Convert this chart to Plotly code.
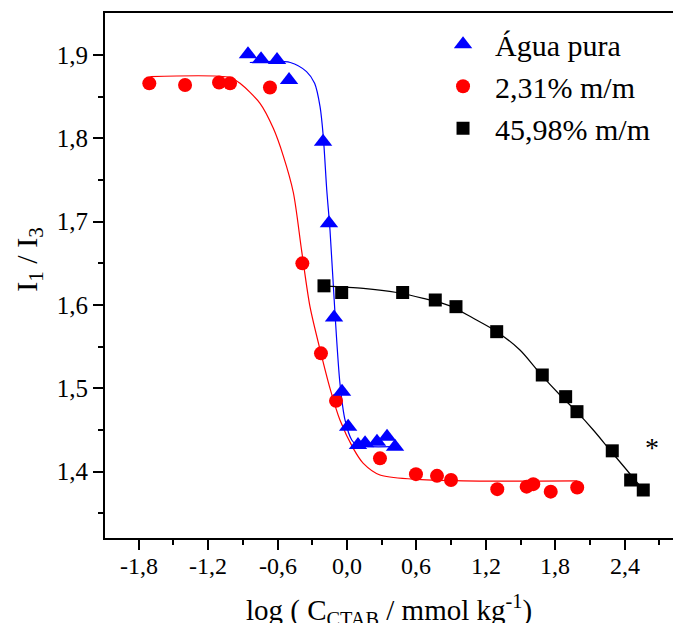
import plotly.graph_objects as go

# ---- data ----
agua_x = [-0.856, -0.743, -0.605, -0.501, -0.207, -0.156, -0.112, -0.043, 0.010, 0.095, 0.156, 0.259, 0.346, 0.415]
agua_y = [1.901, 1.895, 1.894, 1.870, 1.796, 1.698, 1.585, 1.496, 1.454, 1.432, 1.434, 1.436, 1.442, 1.430]

p231_x = [-1.709, -1.400, -1.106, -1.011, -0.666, -0.386, -0.225, -0.095, 0.285, 0.596, 0.778, 0.899, 1.299, 1.553, 1.610, 1.761, 1.990]
p231_y = [1.866, 1.864, 1.867, 1.866, 1.861, 1.650, 1.542, 1.485, 1.416, 1.397, 1.395, 1.390, 1.379, 1.382, 1.385, 1.376, 1.381]

p4598_x = [-0.199, -0.046, 0.481, 0.763, 0.942, 1.294, 1.688, 1.890, 1.988, 2.293, 2.452, 2.561]
p4598_y = [1.623, 1.615, 1.615, 1.606, 1.598, 1.568, 1.516, 1.490, 1.472, 1.425, 1.390, 1.378]

# fitted curves
fit_agua_x = [-0.84, -0.49, -0.35, -0.28, -0.233, -0.205, -0.175, -0.147, -0.104, -0.061, -0.017, 0.041, 0.084, 0.20, 0.39]
fit_agua_y = [1.891, 1.891, 1.880, 1.866, 1.838, 1.802, 1.738, 1.690, 1.590, 1.506, 1.462, 1.438, 1.432, 1.430, 1.430]

fit_231_x = [-1.70, -1.01, -0.925, -0.752, -0.637, -0.551, -0.464, -0.392, -0.320, -0.225, -0.147, -0.061, 0.054, 0.141, 0.285, 0.573, 1.005, 1.99]
fit_231_y = [1.874, 1.873, 1.866, 1.842, 1.812, 1.779, 1.735, 1.665, 1.598, 1.542, 1.500, 1.462, 1.428, 1.410, 1.396, 1.391, 1.389, 1.389]

fit_4598_x = [-0.199, 0.141, 0.430, 0.659, 0.890, 1.092, 1.294, 1.495, 1.668, 1.841, 1.985, 2.129, 2.273, 2.418, 2.561]
fit_4598_y = [1.623, 1.620, 1.615, 1.608, 1.599, 1.584, 1.568, 1.546, 1.518, 1.492, 1.472, 1.450, 1.426, 1.402, 1.378]

series_names = ["Água pura", "2,31% m/m", "45,98% m/m"]

x_tickvals = [-1.8, -1.2, -0.6, 0.0, 0.6, 1.2, 1.8, 2.4]
x_ticktext = ["-1,8", "-1,2", "-0,6", "0,0", "0,6", "1,2", "1,8", "2,4"]
x_minor = [-2.1, -1.5, -0.9, -0.3, 0.3, 0.9, 1.5, 2.1, 2.7]
y_tickvals = [1.4, 1.5, 1.6, 1.7, 1.8, 1.9]
y_ticktext = ["1,4", "1,5", "1,6", "1,7", "1,8", "1,9"]
y_minor = [1.35, 1.45, 1.55, 1.65, 1.75, 1.85]

FONT = "Liberation Serif, Times New Roman, serif"

fig = go.Figure()

# fitted lines
fig.add_trace(go.Scatter(x=fit_agua_x, y=fit_agua_y, mode="lines", showlegend=False,
                         line=dict(color="#0000FF", width=1.2, shape="spline", smoothing=0.8), hoverinfo="skip"))
fig.add_trace(go.Scatter(x=fit_231_x, y=fit_231_y, mode="lines", showlegend=False,
                         line=dict(color="#FF0000", width=1.2, shape="spline", smoothing=0.8), hoverinfo="skip"))
fig.add_trace(go.Scatter(x=fit_4598_x, y=fit_4598_y, mode="lines", showlegend=False,
                         line=dict(color="#000000", width=1.2, shape="spline", smoothing=0.8), hoverinfo="skip"))

# markers
fig.add_trace(go.Scatter(x=p4598_x, y=p4598_y, mode="markers", name=series_names[2],
                         marker=dict(symbol="square", size=13, color="#000000"), legendrank=3))
fig.add_trace(go.Scatter(x=p231_x, y=p231_y, mode="markers", name=series_names[1],
                         marker=dict(symbol="circle", size=14, color="#FF0000"), legendrank=2))
fig.add_trace(go.Scatter(x=agua_x, y=agua_y, mode="markers", name=series_names[0],
                         marker=dict(symbol="triangle-up", size=16, color="#0000FF"), legendrank=1))

# x tick labels placed through the x scale (closer to the axis than Plotly's default)
x_label_annotations = [
    dict(text=t, x=v, y=0, xref="x", yref="paper", xanchor="center", yanchor="middle",
         yshift=-28, showarrow=False, font=dict(family=FONT, size=24))
    for v, t in zip(x_tickvals, x_ticktext)
]

fig.update_layout(
    width=673, height=623,
    margin=dict(l=105, r=0, t=13, b=85),
    paper_bgcolor="white", plot_bgcolor="white",
    font=dict(family=FONT, color="black", size=24),
    showlegend=True,
    legend=dict(x=0.574, y=0.990, xanchor="left", yanchor="top",
                font=dict(family=FONT, size=30, color="black"),
                bgcolor="rgba(0,0,0,0)", itemwidth=54, tracegroupgap=0),
    xaxis=dict(range=[-2.092, 2.818], showgrid=False, zeroline=False,
               showline=True, linecolor="black", linewidth=2, mirror=True,
               ticks="outside", ticklen=10, tickwidth=2, tickcolor="black",
               tickmode="array", tickvals=x_tickvals, ticktext=x_ticktext,
               showticklabels=False,
               minor=dict(tickmode="array", tickvals=x_minor, ticks="outside",
                          ticklen=5, tickwidth=2, tickcolor="black", showgrid=False)),
    yaxis=dict(range=[1.3204, 1.9504], showgrid=False, zeroline=False,
               showline=True, linecolor="black", linewidth=2, mirror=False,
               ticks="outside", ticklen=10, tickwidth=2, tickcolor="black",
               tickmode="array", tickvals=y_tickvals, ticktext=y_ticktext,
               tickfont=dict(family=FONT, size=25),
               minor=dict(tickmode="array", tickvals=y_minor, ticks="outside",
                          ticklen=5, tickwidth=2, tickcolor="black", showgrid=False)),
    annotations=x_label_annotations + [
        dict(text="I<sub>1</sub> / I<sub>3</sub>", xref="paper", yref="paper",
             x=-0.134, y=0.53, xanchor="center", yanchor="middle", textangle=-90,
             showarrow=False, font=dict(family=FONT, size=30)),
        dict(text="log ( C<sub>CTAB</sub> / mmol kg<sup>-1</sup>)", xref="paper", yref="paper",
             x=0.5, y=-0.138, xanchor="center", yanchor="middle",
             showarrow=False, font=dict(family=FONT, size=29)),
        dict(text="*", xref="x", yref="y", x=2.633, y=1.432, xanchor="center", yanchor="middle",
             yshift=-2, showarrow=False, font=dict(family=FONT, size=28)),
    ],
)

fig.write_html("out.html")
